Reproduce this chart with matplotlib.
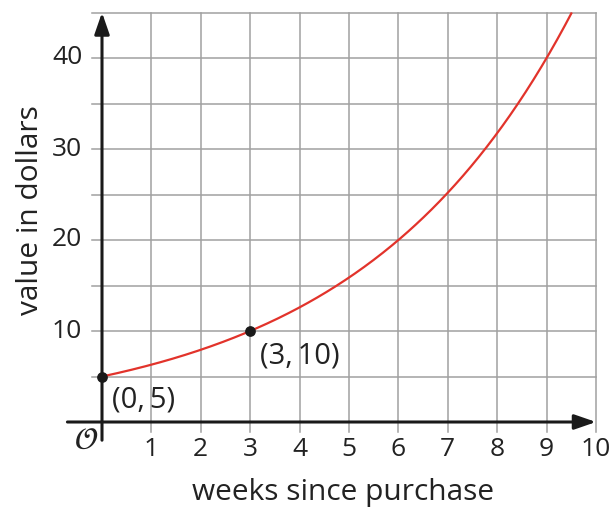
import numpy as np
import matplotlib
matplotlib.use("Agg")
import matplotlib.pyplot as plt

plt.rcParams['font.family'] = ['Open Sans', 'DejaVu Sans']

# Data
x_ticks = [1, 2, 3, 4, 5, 6, 7, 8, 9, 10]
y_ticks = [10, 20, 30, 40]
points_x = [0, 3]
points_y = [5, 10]
point_labels = ["(0,\u20095)", "(3,\u200910)"]
initial_value = 5      # value at week 0
doubling_weeks = 3     # value doubles every 3 weeks
x_end = 9.5

xlabel = "weeks since purchase"
ylabel = "value in dollars"

fig = plt.figure(figsize=(6.11, 5.07), dpi=100)
ax = fig.add_axes([0, 0, 1, 1])
ax.axis('off')
# pixel mapping: x=0 -> 102px, 49.4 px/unit ; y=0 -> 422px, 9.1 px/unit
sx, sy = 49.4, 9.1
ax.set_xlim(-102 / sx, (611 - 102) / sx)
ax.set_ylim(-(507 - 422) / sy, 422 / sy)

grid_c = '#a0a0a0'
grid_lw = 1.1
# horizontal grid lines
for yv in [5, 10, 15, 20, 25, 30, 35, 40, 45]:
    ax.plot([-0.2, 10], [yv, yv], color=grid_c, lw=grid_lw, zorder=1)
# vertical grid lines
for xv in x_ticks:
    ax.plot([xv, xv], [-1.1, 45], color=grid_c, lw=grid_lw, zorder=1)

# axes with arrows
ax.annotate('', xy=(10, 0), xytext=(-0.7, 0),
            arrowprops=dict(arrowstyle='-|>,head_length=1.3,head_width=0.45',
                            color='#1a1a1a', lw=2.2, shrinkA=0, shrinkB=0),
            zorder=3)
ax.annotate('', xy=(0, 45), xytext=(0, -2.0),
            arrowprops=dict(arrowstyle='-|>,head_length=1.3,head_width=0.45',
                            color='#1a1a1a', lw=2.2, shrinkA=0, shrinkB=0),
            zorder=3)

# curve
xs = np.linspace(0, x_end, 300)
ys = initial_value * 2 ** (xs / doubling_weeks)
ax.plot(xs, ys, color='#e2332b', lw=1.6, zorder=4)

# points
ax.scatter(points_x, points_y, s=45, color='#1a1a1a', zorder=5)

fs = 19
for xv in x_ticks:
    ax.text(xv, -3.0, str(xv), ha='center', va='center', fontsize=fs, color='#222222')
for yv in y_ticks:
    ax.text(-0.4, yv, str(yv), ha='right', va='center', fontsize=fs, color='#222222')

ax.text(-0.32, -2.1, r'$\mathcal{O}$', ha='center', va='center', fontsize=22, color='#222222')

ax.text(0.2, 2.4, point_labels[0], ha='left', va='center', fontsize=21, color='#222222')
ax.text(3.2, 7.3, point_labels[1], ha='left', va='center', fontsize=21, color='#222222')

ax.text(4.87, -7.8, xlabel, ha='center', va='center', fontsize=21.5, color='#222222')
ax.text(-1.45, 23.3, ylabel, ha='center', va='center', fontsize=21.5, rotation=90, color='#222222')

fig.savefig('out.png', dpi=100)
